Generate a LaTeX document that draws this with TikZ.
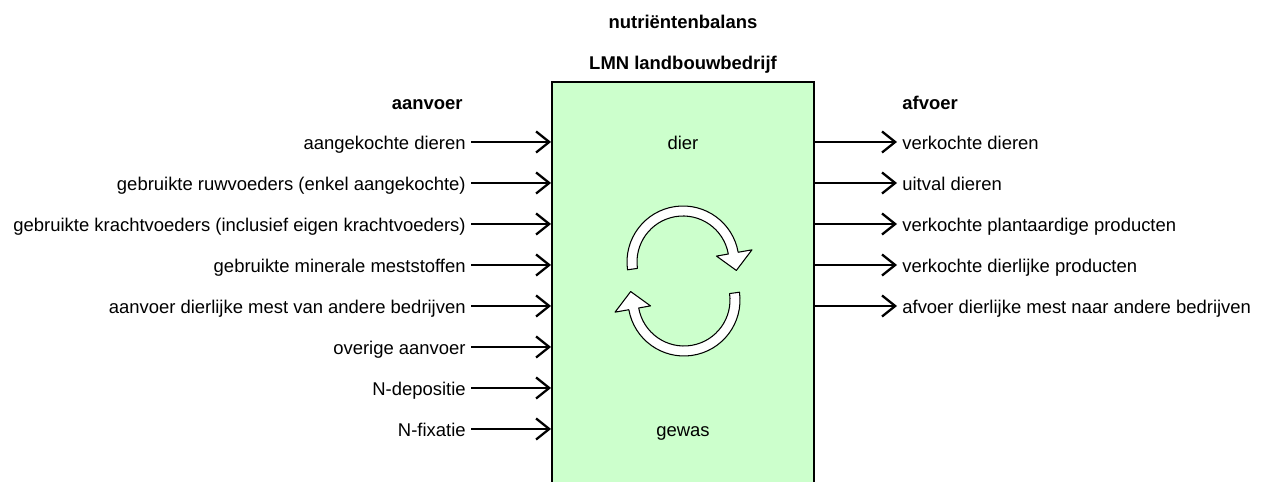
\documentclass[tikz,border=0pt]{standalone}
\usepackage{fontspec}
\setmainfont{Liberation Sans}
\usetikzlibrary{arrows.meta, positioning, calc}
\definecolor{farmgreen}{HTML}{CCFFCC}

\tikzset{
  farm/.style={draw, line width=1.1pt, fill=farmgreen, minimum width=5.24cm, minimum height=8.16cm},
  lbl/.style={font=\fontsize{10.5}{12.6}\selectfont, text height=12pt, text depth=2.9pt, inner xsep=0.1cm, inner ysep=0pt},
  head/.style={font=\fontsize{10.5}{12.6}\selectfont\bfseries, inner xsep=0.1cm, inner ysep=0pt},
  flow/.style={-{Straight Barb[length=7.5pt,width=12pt]}, line width=1.3pt},
  cyclearrow/.style={draw=black, fill=white, line width=0.6pt, line join=round}
}

\begin{document}
\begin{tikzpicture}[x=0.02cm, y=0.02cm]
\useasboundingbox (0,0) rectangle (1267,482);
% the farm
\node[farm] (farm) at (683,196) {};
\node[head, anchor=base] (title) at (683,453) {nutriëntenbalans};
\node[head, anchor=base] (subtitle) at (683,412) {LMN landbouwbedrijf};
\node[lbl] (dier) at (683,340) {dier};
\node[lbl] (gewas) at (683,53) {gewas};
% cycle
\draw[cyclearrow, shift={(683,220)}] (188:56) arc[start angle=188, end angle=10, radius=56] -- (10:70) -- (-9:54) -- (10:34) -- (10:46) arc[start angle=10, end angle=188, radius=46] -- cycle;
\draw[cyclearrow, shift={(684,182)}, rotate=180] (188:56) arc[start angle=188, end angle=10, radius=56] -- (10:70) -- (-9:54) -- (10:34) -- (10:46) arc[start angle=10, end angle=188, radius=46] -- cycle;
% aanvoer
\node[head, anchor=base east] (aanvoer) at (468,372) {aanvoer};
\node[lbl, anchor=east] (in1) at (471,340) {aangekochte dieren};
\node[lbl, anchor=east] (in2) at (471,299) {gebruikte ruwvoeders (enkel aangekochte)};
\node[lbl, anchor=east] (in3) at (471,258) {gebruikte krachtvoeders (inclusief eigen krachtvoeders)};
\node[lbl, anchor=east] (in4) at (471,217) {gebruikte minerale meststoffen};
\node[lbl, anchor=east] (in5) at (471,176) {aanvoer dierlijke mest van andere bedrijven};
\node[lbl, anchor=east] (in6) at (471,135) {overige aanvoer};
\node[lbl, anchor=east] (in7) at (471,94) {N-depositie};
\node[lbl, anchor=east] (in8) at (471,53) {N-fixatie};
\draw[flow] (in1) -- (in1 -| farm.west);
\draw[flow] (in2) -- (in2 -| farm.west);
\draw[flow] (in3) -- (in3 -| farm.west);
\draw[flow] (in4) -- (in4 -| farm.west);
\draw[flow] (in5) -- (in5 -| farm.west);
\draw[flow] (in6) -- (in6 -| farm.west);
\draw[flow] (in7) -- (in7 -| farm.west);
\draw[flow] (in8) -- (in8 -| farm.west);
% afvoer
\node[head, anchor=base west] (afvoer) at (897,372) {afvoer};
\node[lbl, anchor=west] (out1) at (897,340) {verkochte dieren};
\node[lbl, anchor=west] (out2) at (897,299) {uitval dieren};
\node[lbl, anchor=west] (out3) at (897,258) {verkochte plantaardige producten};
\node[lbl, anchor=west] (out4) at (897,217) {verkochte dierlijke producten};
\node[lbl, anchor=west] (out5) at (897,176) {afvoer dierlijke mest naar andere bedrijven};
\draw[flow] (farm.east |- out1) -- (out1);
\draw[flow] (farm.east |- out2) -- (out2);
\draw[flow] (farm.east |- out3) -- (out3);
\draw[flow] (farm.east |- out4) -- (out4);
\draw[flow] (farm.east |- out5) -- (out5);
\end{tikzpicture}
\end{document}
